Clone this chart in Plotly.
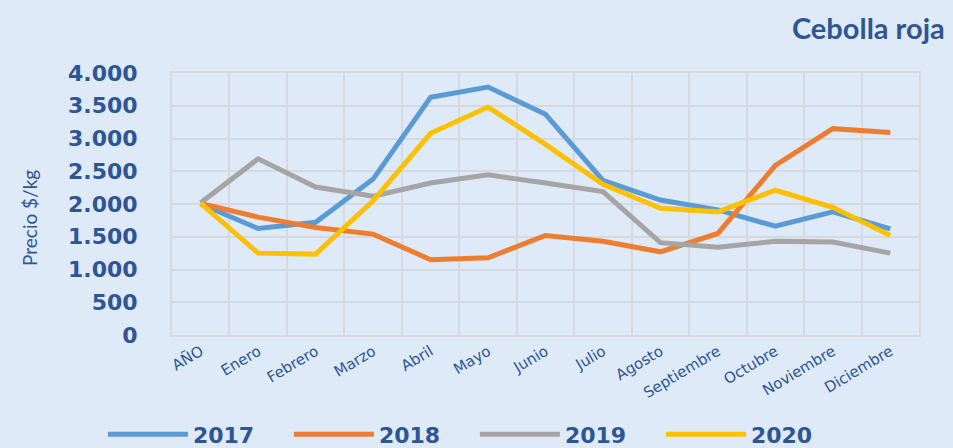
import plotly.graph_objects as go

categories = ["AÑO", "Enero", "Febrero", "Marzo", "Abril", "Mayo", "Junio", "Julio",
              "Agosto", "Septiembre", "Octubre", "Noviembre", "Diciembre"]
s2017 = [2000, 1625, 1720, 2380, 3630, 3785, 3370, 2360, 2060, 1910, 1660, 1880, 1620]
s2018 = [2010, 1800, 1640, 1540, 1150, 1180, 1520, 1430, 1270, 1550, 2590, 3150, 3090]
s2019 = [2020, 2690, 2260, 2120, 2320, 2445, 2320, 2190, 1410, 1340, 1430, 1420, 1250]
s2020 = [2010, 1250, 1235, 2050, 3080, 3480, 2910, 2300, 1935, 1880, 2210, 1950, 1520]
y_ticks = [0, 500, 1000, 1500, 2000, 2500, 3000, 3500, 4000]

series = [("2017", s2017, "#5B9BD5"), ("2018", s2018, "#ED7D31"),
          ("2019", s2019, "#A5A5A5"), ("2020", s2020, "#FFC000")]

dark = "#2F5597"
grid = "#D6D9DD"
bg = "#DEEAF8"

fig = go.Figure()
xs = list(range(len(categories)))
for name, vals, col in series:
    fig.add_trace(go.Scatter(x=xs, y=vals, name=name, mode="lines",
                             line=dict(color=col, width=5)))

fig.update_layout(
    width=953, height=448,
    paper_bgcolor=bg, plot_bgcolor=bg,
    margin=dict(l=172, r=34, t=73, b=113),
    separators=",.",
    title=dict(text="Cebolla roja", x=0.831, xanchor="left", xref="container",
               y=0.935, yanchor="middle", yref="container",
               font=dict(family="Lato", size=29, color=dark, weight="bold")),
    legend=dict(orientation="h", x=0.108, xanchor="left", xref="container",
                y=0.03, yanchor="middle", yref="container",
                font=dict(family="DejaVu Sans", size=22, color=dark, weight="bold"),
                entrywidth=91, itemwidth=80, tracegroupgap=0),
    xaxis=dict(range=[-0.5, 12.5], tickmode="array", tickvals=xs, ticktext=categories,
               tickangle=-31, showgrid=False, zeroline=False, automargin=False,
               tickfont=dict(family="DejaVu Sans", size=15, color=dark),
               showline=True, linecolor=grid, linewidth=2, mirror=True,
               minor=dict(tickmode="linear", tick0=-0.5, dtick=1, showgrid=True,
                          gridcolor=grid, gridwidth=2)),
    yaxis=dict(range=[0, 4000], tickmode="array", tickvals=y_ticks, tickformat=",d",
               showgrid=True, gridcolor=grid, gridwidth=2, zeroline=False,
               showline=True, linecolor=grid, linewidth=2, mirror=True,
               ticklabelstandoff=28, automargin=False,
               tickfont=dict(family="DejaVu Sans", size=22, color=dark, weight="bold")),
    annotations=[dict(text="Precio $/kg", textangle=-90, showarrow=False,
                      xref="paper", yref="paper", x=-0.19, y=0.447,
                      xanchor="center", yanchor="middle",
                      font=dict(family="Lato", size=19, color=dark))],
)

fig.write_html("out.html", config={"displayModeBar": False},
               post_script="document.body.style.margin='0px';")
